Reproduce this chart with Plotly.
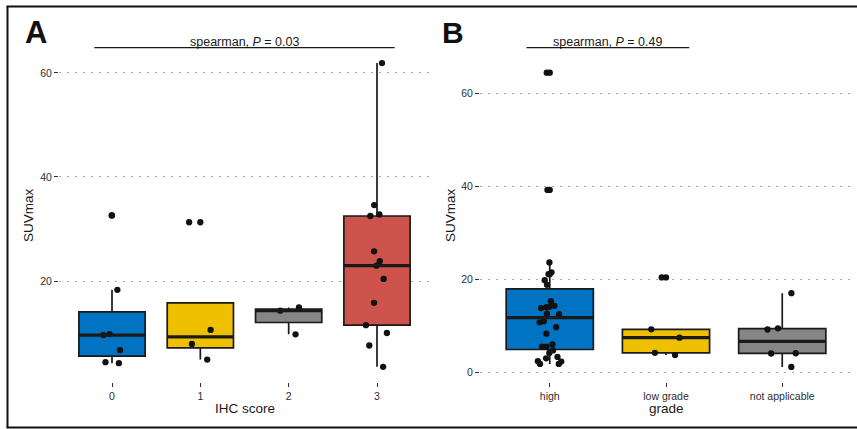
import numpy as np
import plotly.graph_objects as go

# ---------------- data ----------------
ihc_categories = ["0", "1", "2", "3"]
suv_ihc0 = [4.2, 4.4, 6.7, 9.6, 9.8, 18.3, 32.6]
suv_ihc1 = [4.9, 7.9, 10.6, 31.3]
suv_ihc2 = [9.75, 14.3, 14.9]
suv_ihc3 = [3.5, 7.6, 10.0, 11.5, 15.8, 20.4, 22.95, 23.8, 25.7, 32.5, 32.8, 34.6, 61.9]

grade_categories = ["high", "low grade", "not applicable"]
suv_high = [1.8, 1.8, 2.3, 2.4, 3.0, 3.3, 4.15, 4.7, 5.5, 5.5, 6.0, 8.3, 9.7, 10.75,
            11.0, 12.5, 12.6, 13.8, 14.0, 14.1, 14.3, 15.3, 18.8, 19.8, 21.1, 21.1,
            21.5, 23.6, 39.2, 64.4]
suv_low = [3.7, 4.2, 7.45, 9.25, 20.4]
suv_na = [1.15, 4.05, 4.1, 9.2, 9.45, 17.0]

label_a = "spearman, <i>P</i> = 0.03"
label_b = "spearman, <i>P</i> = 0.49"

# ---------------- styles ----------------
W, H = 857, 429
jco = ["#0073C2", "#EFC000", "#868686", "#CD534C"]
FONT = "Liberation Sans, Arial, Helvetica, sans-serif"
INK = "#1a1a1a"
TICK = "#2e2e2e"


def px(x):
    return x / W


def py(y):
    return 1 - y / H


fig = go.Figure()


def add_panel(groups, xa, ya):
    for i, vals in enumerate(groups):
        v = np.array(vals, dtype=float)
        q1, med, q3 = np.percentile(v, [25, 50, 75])
        iqr = q3 - q1
        up_lim, lo_lim = q3 + 1.5 * iqr, q1 - 1.5 * iqr
        hi = max(q3, v[v <= up_lim].max())
        lo = min(q1, v[v >= lo_lim].min())
        out = v[(v > up_lim) | (v < lo_lim)]
        fig.add_trace(go.Box(
            x=[i], q1=[q1], median=[med], q3=[q3], lowerfence=[lo], upperfence=[hi],
            width=0.75, fillcolor=jco[i], line=dict(color=INK, width=1.7),
            whiskerwidth=0, boxpoints=False, xaxis=xa, yaxis=ya,
            showlegend=False, hoverinfo="skip"))
        fig.add_trace(go.Scatter(
            x=[i - 0.375, i + 0.375], y=[med, med], mode="lines",
            line=dict(color=INK, width=3.4), xaxis=xa, yaxis=ya,
            showlegend=False, hoverinfo="skip"))
        if len(out):
            fig.add_trace(go.Scatter(
                x=[i] * len(out), y=out, mode="markers",
                marker=dict(color="#111111", size=6.3), xaxis=xa, yaxis=ya,
                showlegend=False, hoverinfo="skip"))
        fig.add_trace(go.Box(
            x=[i] * len(v), y=v, boxpoints="all", jitter=0.4, pointpos=0,
            width=0.75, fillcolor="rgba(0,0,0,0)",
            line=dict(color="rgba(0,0,0,0)", width=0), whiskerwidth=0,
            marker=dict(color="#111111", size=6.3), xaxis=xa, yaxis=ya,
            showlegend=False, hoverinfo="skip"))


add_panel([suv_ihc0, suv_ihc1, suv_ihc2, suv_ihc3], "x", "y")
add_panel([suv_high, suv_low, suv_na], "x2", "y2")

ydom = [py(382), py(48)]
common_x = dict(showgrid=False, zeroline=False, showline=False, ticks="outside",
                ticklen=4, tickwidth=1.3, tickcolor=TICK,
                tickfont=dict(family=FONT, size=10.5, color=TICK), automargin=False)
common_y = dict(showgrid=True, gridcolor="#aaaaaa", gridwidth=1.3, griddash="2px,6px",
                zeroline=False, showline=False, ticks="outside", ticklen=4,
                tickwidth=1.3, tickcolor=TICK, dtick=20, tick0=0,
                tickfont=dict(family=FONT, size=10.5, color=TICK), automargin=False)

fig.update_layout(
    width=W, height=H, margin=dict(l=0, r=0, t=0, b=0),
    paper_bgcolor="white", plot_bgcolor="white", boxmode="overlay",
    showlegend=False,
    xaxis=dict(domain=[px(59), px(430)], range=[-0.6, 3.6],
               tickvals=list(range(len(ihc_categories))), ticktext=ihc_categories,
               anchor="y", **common_x),
    yaxis=dict(domain=ydom, range=[0.58, 64.8], anchor="x", **common_y),
    xaxis2=dict(domain=[px(480), px(852)], range=[-0.6, 2.6],
                tickvals=list(range(len(grade_categories))), ticktext=grade_categories,
                anchor="y2", **common_x),
    yaxis2=dict(domain=ydom, range=[-2.08, 69.7], anchor="x2", **common_y),
)

# spearman brackets
bracket_y = py(47.7)
fig.add_shape(type="line", xref="x", yref="paper", x0=-0.2, x1=3.2, y0=bracket_y, y1=bracket_y,
              line=dict(color=INK, width=1.3))
fig.add_shape(type="line", xref="x2", yref="paper", x0=-0.2, x1=1.2, y0=bracket_y, y1=bracket_y,
              line=dict(color=INK, width=1.3))

annots = [
    dict(text=label_a, xref="x", x=1.5, yref="paper", y=py(41.5), yanchor="middle",
         font=dict(family=FONT, size=12.5, color=INK)),
    dict(text=label_b, xref="x2", x=0.5, yref="paper", y=py(41.5), yanchor="middle",
         font=dict(family=FONT, size=12.5, color=INK)),
    dict(text="<b>A</b>", xref="paper", x=px(23), xanchor="left", yref="paper", y=py(32),
         yanchor="middle", font=dict(family=FONT, size=31, color="#111111")),
    dict(text="<b>B</b>", xref="paper", x=px(440), xanchor="left", yref="paper", y=py(32),
         yanchor="middle", font=dict(family=FONT, size=30, color="#111111")),
    dict(text="SUVmax", textangle=-90, xref="paper", x=px(28), yref="paper", y=py(215),
         font=dict(family=FONT, size=13.5, color=INK)),
    dict(text="SUVmax", textangle=-90, xref="paper", x=px(450), yref="paper", y=py(215),
         font=dict(family=FONT, size=13.5, color=INK)),
    dict(text="IHC score", xref="paper", x=px(244.5), yref="paper", y=py(408),
         font=dict(family=FONT, size=13.5, color=INK)),
    dict(text="grade", xref="paper", x=px(666), yref="paper", y=py(408),
         font=dict(family=FONT, size=13.5, color=INK)),
]
for a in annots:
    a.setdefault("showarrow", False)
    a.setdefault("xanchor", "center")
    a.setdefault("yanchor", "middle")
    fig.add_annotation(**a)

# outer frame (left, top, bottom)
frame = dict(color="#111111", width=2)
fig.add_shape(type="line", xref="paper", yref="paper", x0=px(7.5), x1=px(7.5), y0=py(427.5), y1=py(6.5), line=frame)
fig.add_shape(type="line", xref="paper", yref="paper", x0=px(6.5), x1=1, y0=py(6.5), y1=py(6.5), line=frame)
fig.add_shape(type="line", xref="paper", yref="paper", x0=px(6.5), x1=1, y0=py(427.5), y1=py(427.5), line=frame)

fig.write_html("out.html", config={"displayModeBar": False},
               post_script="document.body.style.margin='0';document.body.style.overflow='hidden';")
